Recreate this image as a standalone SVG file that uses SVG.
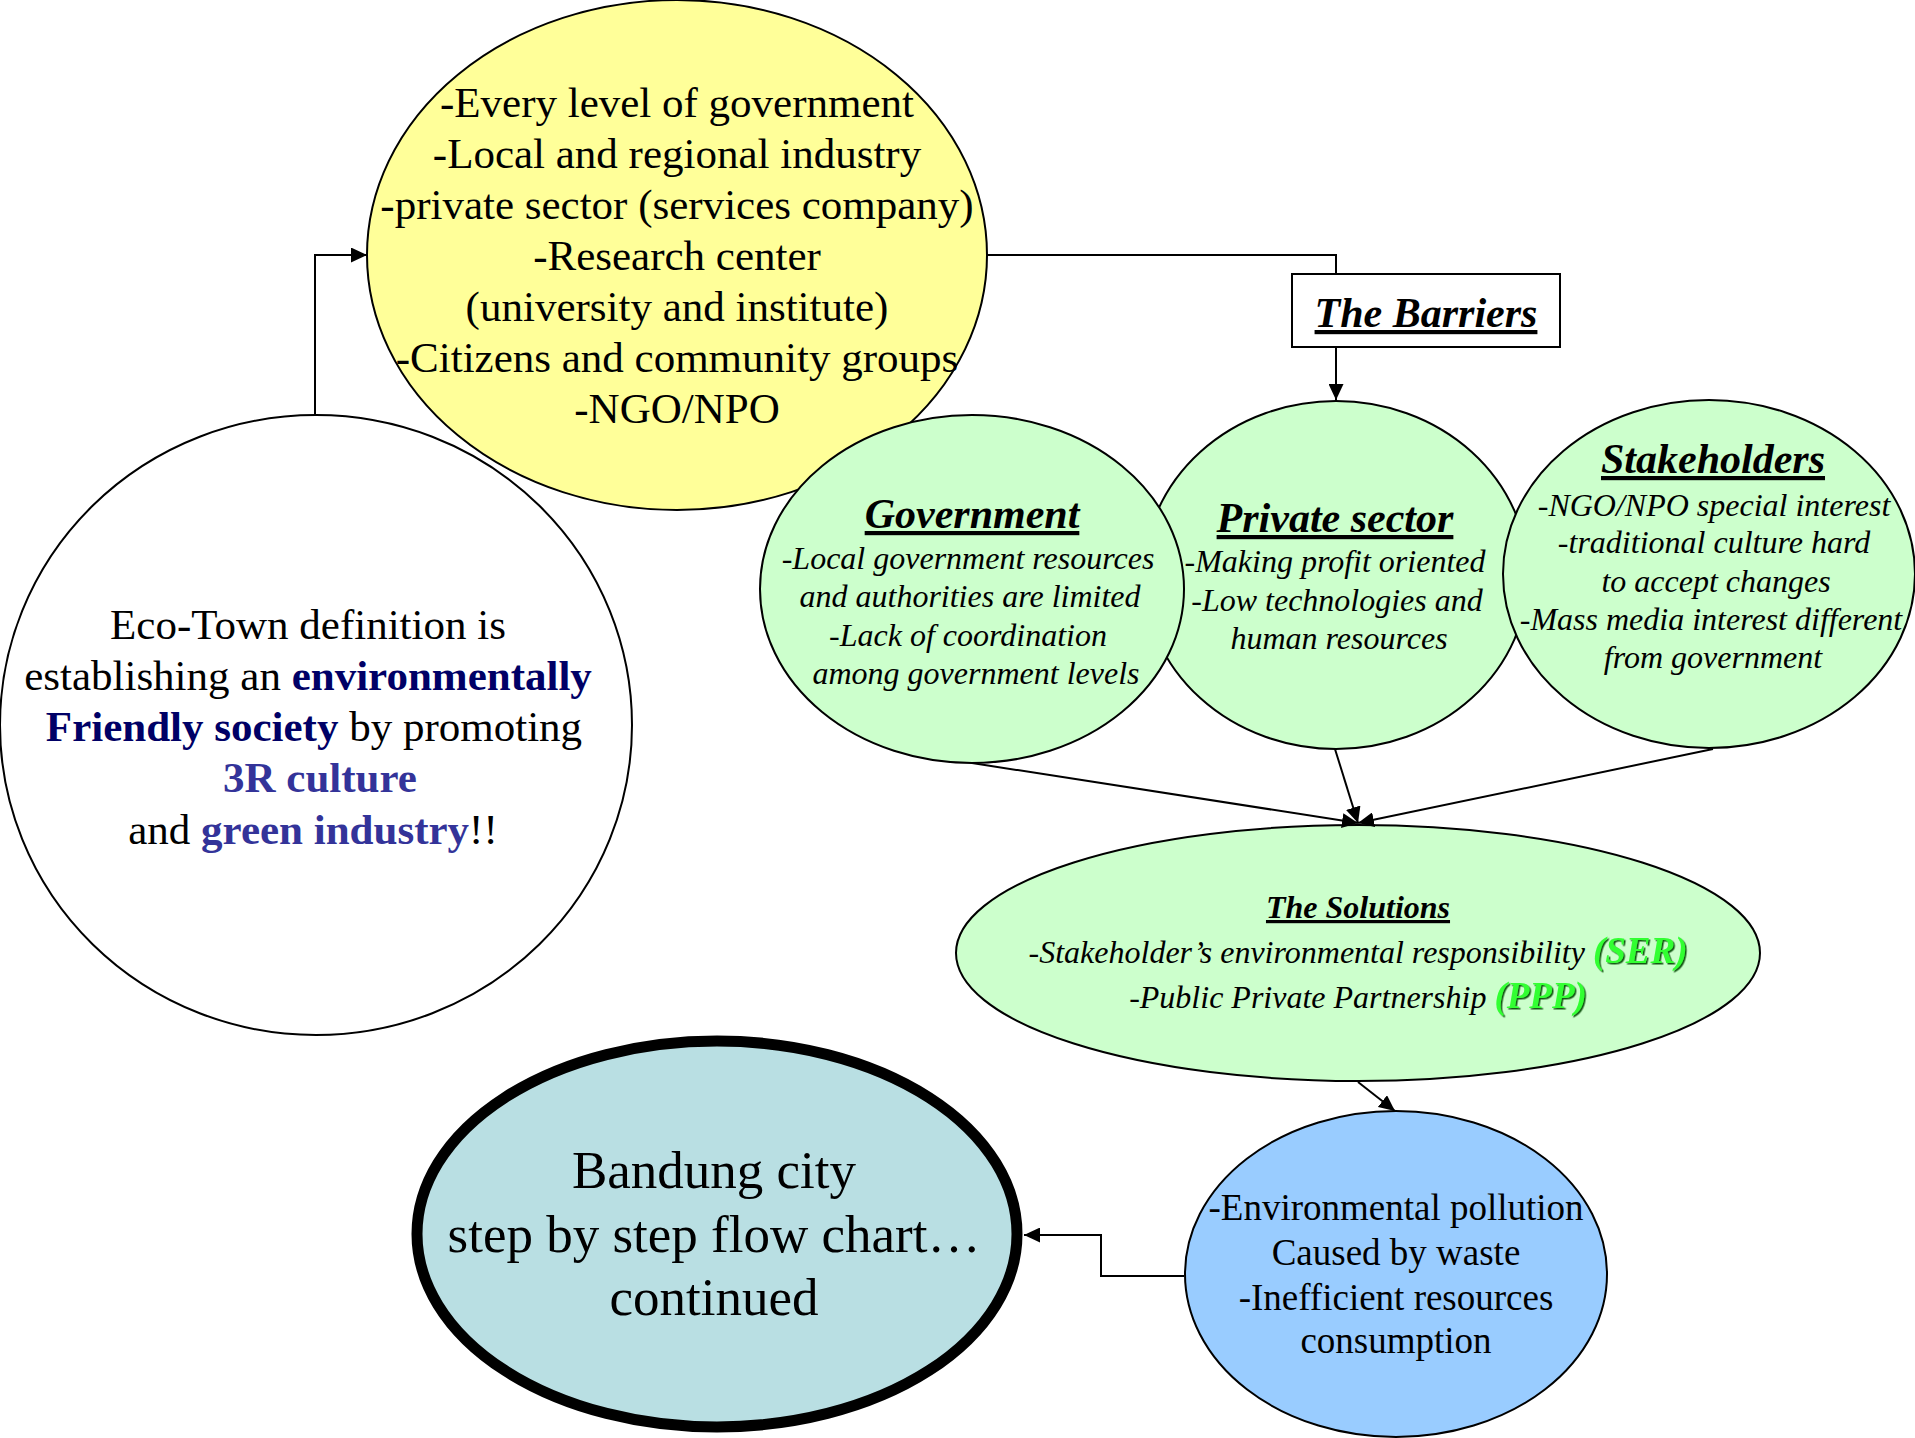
<svg xmlns="http://www.w3.org/2000/svg" width="1915" height="1438" viewBox="0 0 1915 1438">
  <defs>
    <marker id="arrow" viewBox="0 0 10 10" refX="10" refY="5" markerWidth="16" markerHeight="15" markerUnits="userSpaceOnUse" orient="auto" preserveAspectRatio="none">
      <path d="M0,0 L10,5 L0,10 z" fill="#000"/>
    </marker>
    <filter id="shadow" x="-10%" y="-10%" width="130%" height="130%">
      <feDropShadow dx="1.5" dy="1.5" stdDeviation="0.3" flood-color="#004400" flood-opacity="0.9"/>
    </filter>
  </defs>
  <style>
    text { font-family: "Liberation Serif", "Times New Roman", serif; fill: #000; }
    .node { stroke: #000; stroke-width: 2; }
    .conn { fill: none; stroke: #000; stroke-width: 2; }
    .big { font-size: 43px; text-anchor: middle; }
    .title { font-size: 42px; font-weight: bold; font-style: italic; text-decoration: underline; text-anchor: middle; }
    .body { font-size: 32px; font-style: italic; text-anchor: middle; }
    .navy { fill: #000066; font-weight: bold; }
    .indigo { fill: #333399; font-weight: bold; }
    .hl { fill: #33FF33; font-weight: bold; font-size: 37px; filter: url(#shadow); }
  </style>
  <rect width="1915" height="1438" fill="#fff"/>

  <g id="node-ecotown">
    <ellipse class="node" cx="316" cy="725" rx="316" ry="310" fill="#fff"/>
    <text class="big" x="308" y="639">Eco-Town definition is</text>
    <text class="big" x="308" y="690">establishing an <tspan class="navy">environmentally</tspan></text>
    <text class="big" x="314" y="741"><tspan class="navy">Friendly society</tspan> by promoting</text>
    <text class="big" x="320" y="792"><tspan class="indigo">3R culture</tspan></text>
    <text class="big" x="313" y="844">and <tspan class="indigo">green industry</tspan>!!</text>
  </g>

  <g id="node-actors">
    <ellipse class="node" cx="677" cy="255" rx="310" ry="255" fill="#FFFF99"/>
    <text class="big" x="677" y="117">-Every level of government</text>
    <text class="big" x="677" y="168">-Local and regional industry</text>
    <text class="big" x="677" y="219">-private sector (services company)</text>
    <text class="big" x="677" y="270">-Research center</text>
    <text class="big" x="677" y="321">(university and institute)</text>
    <text class="big" x="677" y="372">-Citizens and community groups</text>
    <text class="big" x="677" y="423">-NGO/NPO</text>
  </g>

  <g id="node-barriers">
    <rect class="node" x="1292" y="274" width="268" height="73" fill="#fff"/>
    <text class="title" x="1426" y="327">The Barriers</text>
  </g>

  <g id="node-private">
    <ellipse class="node" cx="1336" cy="575" rx="192" ry="174" fill="#CCFFCC"/>
    <text class="title" x="1335" y="532">Private sector</text>
    <text class="body" x="1335" y="572">-Making profit oriented</text>
    <text class="body" x="1337" y="611">-Low technologies and</text>
    <text class="body" x="1339" y="649">human resources</text>
  </g>

  <g id="node-government">
    <ellipse class="node" cx="972" cy="589" rx="212" ry="174" fill="#CCFFCC"/>
    <text class="title" x="972" y="528">Government</text>
    <text class="body" x="968" y="569">-Local government resources</text>
    <text class="body" x="970" y="607">and authorities are limited</text>
    <text class="body" x="968" y="646">-Lack of coordination</text>
    <text class="body" x="976" y="684">among government levels</text>
  </g>

  <g id="node-stakeholders">
    <ellipse class="node" cx="1709" cy="574" rx="206" ry="174" fill="#CCFFCC"/>
    <text class="title" x="1713" y="473">Stakeholders</text>
    <text class="body" x="1714" y="516">-NGO/NPO special interest</text>
    <text class="body" x="1714" y="553">-traditional culture hard</text>
    <text class="body" x="1716" y="592">to accept changes</text>
    <text class="body" x="1711" y="630">-Mass media interest different</text>
    <text class="body" x="1713" y="668">from government</text>
  </g>

  <g id="node-solutions">
    <ellipse class="node" cx="1358" cy="953" rx="402" ry="128" fill="#CCFFCC"/>
    <text class="title" x="1358" y="918" style="font-size:32px">The Solutions</text>
    <text class="body" x="1358" y="963">-Stakeholder’s environmental responsibility <tspan class="hl">(SER)</tspan></text>
    <text class="body" x="1358" y="1008">-Public Private Partnership <tspan class="hl">(PPP)</tspan></text>
  </g>

  <g id="node-problems">
    <ellipse class="node" cx="1396" cy="1274" rx="211" ry="163" fill="#99CCFF"/>
    <text class="big" x="1396" y="1220" style="font-size:37px">-Environmental pollution</text>
    <text class="big" x="1396" y="1265" style="font-size:37px">Caused by waste</text>
    <text class="big" x="1396" y="1310" style="font-size:37px">-Inefficient resources</text>
    <text class="big" x="1396" y="1353" style="font-size:37px">consumption</text>
  </g>

  <g id="node-bandung">
    <ellipse cx="717" cy="1234" rx="300" ry="193" fill="#B9DFE3" stroke="#000" stroke-width="11"/>
    <text class="big" x="714" y="1188" style="font-size:53px">Bandung city</text>
    <text class="big" x="714" y="1252" style="font-size:53px">step by step flow chart…</text>
    <text class="big" x="714" y="1315" style="font-size:53px">continued</text>
  </g>

  <g id="connectors">
    <path class="conn" d="M315,415 V255 H367" marker-end="url(#arrow)"/>
    <path class="conn" d="M987,255 H1336 V274"/>
    <path class="conn" d="M1336,347 V400" marker-end="url(#arrow)"/>
    <path class="conn" d="M972,763 L1358,823" marker-end="url(#arrow)"/>
    <path class="conn" d="M1335,749 L1358,823" marker-end="url(#arrow)"/>
    <path class="conn" d="M1713,749 L1358,823" marker-end="url(#arrow)"/>
    <path class="conn" d="M1358,1082 L1395,1111" marker-end="url(#arrow)"/>
    <path class="conn" d="M1184,1276 H1101 V1235 H1024" marker-end="url(#arrow)"/>
  </g>
</svg>
